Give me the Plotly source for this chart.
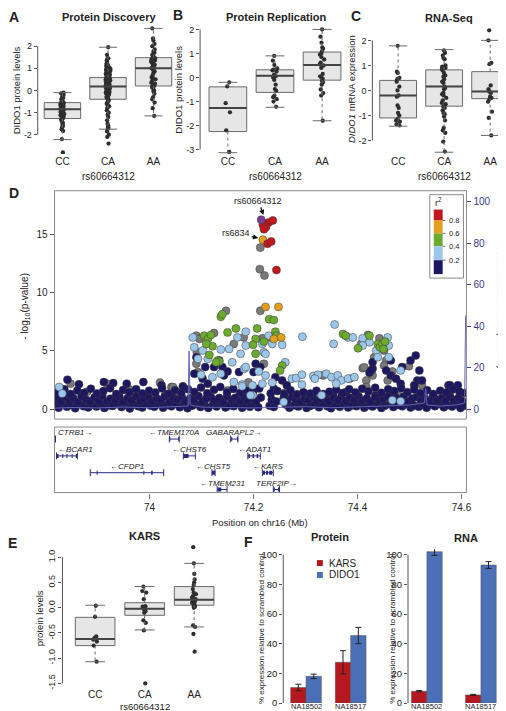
import plotly.graph_objects as go

W, H = 506, 711
FONT = "Liberation Sans, Arial, Helvetica, sans-serif"
INK = "#222222"

GENOTYPES = ["CC", "CA", "AA"]
SNP_LABEL = "rs60664312"

# ---------------- Panel A : Protein Discovery ----------------
A_CC = [-0.1, -0.13, -0.2, -0.28, -0.33, -0.4, -0.47, -0.5, -0.55, -0.58, -0.61, -0.66, -0.7, -0.71,
        -0.74, -0.78, -0.8, -0.83, -0.85, -0.86, -0.9, -0.93, -0.95, -0.98, -1.02, -1.06, -1.1, -1.12,
        -1.18, -1.22, -1.27, -1.33, -1.4, -1.47, -1.52, -1.6, -1.66, -1.75, -1.83, -2.2, -2.8]
A_CA = [1.95, 1.6, 1.45, 1.41, 1.35, 1.3, 1.24, 1.2, 1.16, 1.1, 1.08, 1.05, 1.02, 1.0, 0.97, 0.95,
        0.92, 0.9, 0.87, 0.85, 0.82, 0.8, 0.77, 0.75, 0.72, 0.7, 0.67, 0.65, 0.62, 0.6, 0.57, 0.55,
        0.52, 0.5, 0.47, 0.45, 0.42, 0.4, 0.38, 0.35, 0.33, 0.3, 0.27, 0.25, 0.22, 0.2, 0.18, 0.16,
        0.14, 0.12, 0.1, 0.08, 0.05, 0.03, 0.0, -0.03, -0.05, -0.08, -0.1, -0.12, -0.15, -0.18, -0.2,
        -0.25, -0.28, -0.3, -0.35, -0.4, -0.45, -0.5, -0.55, -0.6, -0.66, -0.72, -0.8, -0.9, -1.0,
        -1.1, -1.2, -1.35, -1.5, -1.6, -1.65, -1.7, -1.75, -1.85, -2.0, -2.1, -2.4]
A_AA = [2.8, 2.35, 2.25, 2.1, 2.0, 1.85, 1.75, 1.7, 1.6, 1.55, 1.5, 1.45, 1.4, 1.35, 1.3, 1.25, 1.2,
        1.15, 1.1, 1.05, 1.0, 0.95, 0.9, 0.85, 0.8, 0.7, 0.6, 0.55, 0.5, 0.45, 0.35, 0.3, 0.25, 0.2,
        0.15, 0.1, 0.0, -0.05, -0.15, -0.3, -0.4, -0.55, -0.8, -1.15]
A_LO = [-2.22, -1.75, -1.15]
A_Q1 = [-1.27, -0.4, 0.2]
A_MED = [-0.85, 0.18, 1.0]
A_Q3 = [-0.55, 0.58, 1.48]
A_HI = [-0.1, 1.95, 2.8]

# ---------------- Panel B : Protein Replication ----------------
B_CC = [-0.2, -0.37, -1.07, -1.45, -2.2, -3.1]
B_CA = [0.9, 0.7, 0.52, 0.38, 0.33, 0.3, 0.25, 0.12, 0.05, 0.0, -0.1, -0.3, -0.48, -0.55, -0.75,
        -0.82, -0.9, -1.0, -1.22]
B_AA = [2.0, 1.7, 1.45, 1.25, 1.2, 1.1, 1.0, 0.95, 0.85, 0.75, 0.62, 0.55, 0.5, 0.4, 0.15, 0.05,
        0.0, -0.05, -0.15, -0.2, -0.3, -0.5, -0.65, -0.75, -1.8]
B_LO = [-3.13, -1.24, -1.8]
B_Q1 = [-2.25, -0.62, -0.11]
B_MED = [-1.27, 0.07, 0.52]
B_Q3 = [-0.39, 0.32, 1.06]
B_HI = [-0.2, 0.9, 2.0]

# ---------------- Panel C : RNA-Seq ----------------
C_CC = [1.78, 0.75, 0.7, 0.5, 0.45, 0.35, 0.15, 0.0, -0.2, -0.25, -0.6, -0.7, -0.9, -1.0, -1.15,
        -1.2, -1.25, -1.35, -1.4]
C_CA = [1.6, 1.5, 1.4, 1.3, 1.25, 1.0, 0.95, 0.9, 0.85, 0.8, 0.7, 0.6, 0.55, 0.45, 0.35, 0.3, 0.15,
        0.1, 0.05, -0.1, -0.15, -0.2, -0.3, -0.4, -0.5, -0.55, -0.65, -0.7, -0.8, -0.9, -0.95, -1.05,
        -1.2, -1.5, -1.6, -1.7, -2.05, -2.45]
C_AA = [2.4, 2.0, 1.1, 1.05, 0.2, 0.05, -0.05, -0.1, -0.25, -0.3, -0.35, -0.45, -0.85, -1.1, -1.8]
C_LO = [-1.43, -2.47, -1.8]
C_Q1 = [-1.1, -0.63, -0.33]
C_MED = [-0.2, 0.16, -0.04]
C_Q3 = [0.4, 0.82, 0.75]
C_HI = [1.78, 1.63, 2.0]

# ---------------- Panel E : KARS protein ----------------
E_CC = [0.04, -0.18, -0.57, -0.6, -0.63, -0.67, -0.75, -1.07]
E_CA = [0.42, 0.33, 0.3, 0.17, 0.03, 0.02, 0.0, -0.02, -0.05, -0.07, -0.1, -0.25, -0.3, -0.45, -1.5]
E_AA = [1.2, 0.88, 0.67, 0.56, 0.5, 0.45, 0.37, 0.3, 0.27, 0.23, 0.2, 0.17, 0.15, 0.12, 0.1, 0.07,
        0.05, 0.03, 0.02, 0.0, -0.35, -0.38, -0.52, -0.87]
E_LO = [-1.07, -0.44, -0.38]
E_Q1 = [-0.75, -0.15, 0.05]
E_MED = [-0.62, -0.02, 0.16]
E_Q3 = [-0.19, 0.1, 0.42]
E_HI = [0.05, 0.42, 0.88]

# ---------------- Panel F : knockdown ----------------
F_LINES = ["NA18502", "NA18517"]
F_PROT_KARS = [10.5, 27.5]
F_PROT_KARS_ERR = [2.2, 7.8]
F_PROT_DIDO1 = [18.0, 45.5]
F_PROT_DIDO1_ERR = [1.5, 5.5]
F_RNA_KARS = [8.0, 5.5]
F_RNA_KARS_ERR = [0.4, 0.4]
F_RNA_DIDO1 = [102.0, 93.0]
F_RNA_DIDO1_ERR = [2.5, 2.3]

# ---------------- Panel D : regional association (position Mb, -log10 p) ----------------
D_TOP = [(74.2147, 16.26)]
D_RED = [(74.2215, 15.92), (74.229, 16.03), (74.237, 16.2), (74.224, 15.63), (74.218, 15.83),
         (74.227, 14.2), (74.234, 14.4), (74.244, 11.94), (74.220, 15.45)]
D_ORANGE = [(74.218, 14.55), (74.223, 8.78), (74.248, 8.78), (74.253, 6.16), (74.239, 6.03)]
D_GREEN = [(74.137, 7.93), (74.140, 8.15), (74.230, 7.73), (74.239, 7.65), (74.105, 6.31),
           (74.112, 6.03), (74.150, 6.59), (74.166, 6.93), (74.207, 6.93), (74.204, 6.03),
           (74.121, 5.40), (74.199, 5.52), (74.115, 4.66), (74.204, 4.75), (74.131, 4.18),
           (74.134, 4.09), (74.242, 6.65), (74.244, 6.31), (74.220, 5.80), (74.372, 6.45),
           (74.377, 6.31), (74.401, 5.23), (74.255, 3.75), (74.251, 3.32), (74.423, 6.31),
           (74.439, 5.60), (74.443, 5.31), (74.448, 5.60), (74.450, 5.17), (74.453, 5.80),
           (74.118, 6.37), (74.109, 5.60), (74.128, 4.03)]
D_LBLUE = [(74.083, 6.16), (74.185, 6.65), (74.169, 6.16), (74.137, 5.12), (74.153, 5.17),
           (74.185, 5.46), (74.217, 5.60), (74.086, 5.31), (74.102, 5.03), (74.175, 4.75),
           (74.220, 4.88), (74.093, 4.32), (74.112, 4.32), (74.159, 4.03), (74.099, 2.96),
           (74.121, 2.75), (74.137, 3.04), (74.162, 2.33), (74.178, 2.11), (74.198, 2.05),
           (74.182, 3.47), (74.185, 3.61), (74.210, 3.24), (74.198, 1.19), (74.223, 2.90),
           (74.229, 6.31), (74.236, 5.60), (74.255, 5.52), (74.294, 6.22), (74.356, 7.27),
           (74.354, 5.60), (74.382, 6.16), (74.391, 6.16), (74.410, 6.08), (74.223, 4.75),
           (74.261, 4.03), (74.274, 2.62), (74.282, 2.67), (74.293, 2.96), (74.315, 2.84),
           (74.324, 2.96), (74.340, 3.04), (74.350, 2.75), (74.362, 2.90), (74.369, 2.47),
           (74.382, 2.62), (74.394, 2.75), (74.359, 2.19), (74.318, 2.62), (74.217, 2.19),
           (74.236, 2.28), (74.293, 2.11), (74.331, 1.19), (74.258, 0.62), (74.423, 5.74),
           (74.458, 6.16), (74.460, 5.46), (74.436, 5.03), (74.439, 4.46), (74.460, 4.46),
           (74.483, 3.32), (74.467, 0.77), (74.483, 0.68), (74.410, 5.46), (73.826, 1.90),
           (73.832, 1.34), (74.194, 1.19), (74.178, 1.96)]
D_GREY = [(74.213, 13.87), (74.212, 12.02), (74.221, 11.48), (74.147, 8.44), (74.213, 8.44),
          (74.090, 6.31), (74.096, 6.03), (74.124, 6.54), (74.181, 6.16), (74.217, 6.08),
          (74.162, 5.60), (74.091, 4.88), (74.090, 3.90), (74.093, 3.18), (74.042, 1.90),
          (74.051, 1.47), (74.232, 6.16), (74.220, 3.90), (74.334, 2.90), (74.385, 2.62),
          (74.410, 3.52), (74.407, 5.60), (74.420, 6.37), (74.442, 6.08), (74.432, 4.46),
          (74.451, 5.03), (74.455, 4.18), (74.413, 3.60), (74.451, 3.75), (74.499, 3.69),
          (74.417, 2.47), (74.417, 1.90), (74.429, 2.90), (74.458, 2.47), (74.467, 3.24),
          (74.524, 2.05), (73.848, 2.19), (73.918, 2.19), (74.020, 2.28), (74.045, 1.90),
          (74.150, 1.60), (74.190, 2.30), (74.260, 1.40), (74.309, 0.62), (74.350, 1.20),
          (74.480, 1.10), (74.550, 0.80), (73.880, 1.50), (73.960, 1.70), (74.000, 0.90)]
D_NAVY = [
    # raised points
    (74.086, 3.04), (74.102, 2.62), (74.124, 3.61), (74.140, 3.61), (74.150, 3.24), (74.112, 2.19),
    (74.204, 3.90), (74.213, 3.61), (74.200, 3.18), (74.090, 4.46), (74.107, 3.61), (74.134, 4.18),
    (74.172, 3.18), (74.143, 2.90), (74.242, 2.75), (74.255, 2.47), (74.264, 2.05), (74.239, 1.76),
    (74.378, 1.47), (74.398, 1.19), (74.309, 1.19), (74.385, 0.91), (74.353, 1.19), (74.512, 4.60),
    (74.519, 3.32), (74.423, 3.13), (74.429, 3.47), (74.455, 3.32), (74.464, 2.90), (74.474, 2.62),
    (74.515, 2.47), (74.483, 2.19), (74.509, 2.05), (74.575, 2.05), (74.593, 2.05), (74.435, 1.19),
    (74.467, 1.19), (74.502, 4.18), (74.486, 3.61), (74.524, 2.47), (74.578, 2.05), (74.464, 4.18),
    (74.429, 4.03), (74.426, 3.32), (73.842, 2.53), (73.864, 2.13), (73.912, 2.33), (73.930, 2.24),
    (73.956, 2.19), (73.988, 2.33), (74.023, 2.05), (74.064, 1.96),
    # low row
    (73.818, 0.30), (73.825, 0.12), (73.833, 0.42), (73.841, 0.20), (73.850, 0.35), (73.857, 0.08),
    (73.866, 0.45), (73.873, 0.25), (73.882, 0.15), (73.889, 0.38), (73.898, 0.22), (73.906, 0.50),
    (73.913, 0.10), (73.922, 0.32), (73.929, 0.28), (73.938, 0.44), (73.946, 0.18), (73.953, 0.36),
    (73.962, 0.06), (73.969, 0.40), (73.978, 0.26), (73.986, 0.14), (73.993, 0.48), (74.002, 0.30),
    (74.009, 0.20), (74.018, 0.42), (74.026, 0.12), (74.033, 0.34), (74.042, 0.24), (74.049, 0.46),
    (74.058, 0.16), (74.066, 0.38), (74.073, 0.08), (74.082, 0.30), (74.089, 0.44), (74.098, 0.18),
    (74.106, 0.36), (74.113, 0.10), (74.122, 0.40), (74.129, 0.22), (74.138, 0.48), (74.146, 0.14),
    (74.153, 0.32), (74.162, 0.26), (74.169, 0.44), (74.178, 0.12), (74.186, 0.36), (74.193, 0.20),
    (74.202, 0.42), (74.209, 0.16), (74.231, 0.30), (74.239, 0.18), (74.262, 0.40), (74.269, 0.12),
    (74.278, 0.34), (74.286, 0.22), (74.293, 0.46), (74.302, 0.10), (74.309, 0.28), (74.318, 0.38),
    (74.326, 0.16), (74.333, 0.44), (74.342, 0.24), (74.349, 0.08), (74.358, 0.36), (74.366, 0.20),
    (74.373, 0.42), (74.382, 0.14), (74.389, 0.32), (74.398, 0.26), (74.406, 0.48), (74.413, 0.12),
    (74.422, 0.34), (74.429, 0.22), (74.438, 0.40), (74.446, 0.10), (74.453, 0.30), (74.462, 0.44),
    (74.469, 0.18), (74.478, 0.36), (74.486, 0.24), (74.493, 0.46), (74.502, 0.14), (74.509, 0.32),
    (74.518, 0.20), (74.526, 0.42), (74.533, 0.12), (74.542, 0.38), (74.549, 0.26), (74.558, 0.44),
    (74.566, 0.16), (74.573, 0.34), (74.582, 0.22), (74.589, 0.40), (74.598, 0.10), (74.606, 0.30),
    # middle row
    (73.821, 0.85), (73.829, 0.65), (73.837, 1.05), (73.846, 0.75), (73.853, 0.95), (73.862, 0.62),
    (73.869, 1.10), (73.878, 0.80), (73.885, 0.68), (73.894, 1.00), (73.902, 0.72), (73.909, 1.12),
    (73.918, 0.66), (73.925, 0.90), (73.934, 0.78), (73.942, 1.06), (73.949, 0.64), (73.958, 0.96),
    (73.965, 0.74), (73.974, 1.08), (73.982, 0.70), (73.989, 0.88), (73.998, 1.02), (74.005, 0.66),
    (74.014, 0.92), (74.022, 0.76), (74.029, 1.10), (74.038, 0.62), (74.045, 0.98), (74.054, 0.82),
    (74.062, 1.04), (74.069, 0.70), (74.078, 0.94), (74.085, 0.78), (74.094, 1.12), (74.102, 0.66),
    (74.109, 0.90), (74.118, 1.02), (74.125, 0.74), (74.134, 0.96), (74.142, 0.64), (74.149, 1.08),
    (74.158, 0.80), (74.165, 0.98), (74.174, 0.68), (74.182, 1.06), (74.189, 0.76), (74.198, 0.92),
    (74.205, 0.70), (74.214, 1.00), (74.235, 0.82), (74.244, 0.66), (74.258, 0.96), (74.265, 0.72),
    (74.274, 1.04), (74.282, 0.78), (74.289, 0.64), (74.298, 0.94), (74.305, 0.80), (74.314, 1.06),
    (74.322, 0.70), (74.329, 0.88), (74.338, 1.00), (74.345, 0.66), (74.354, 0.92), (74.362, 0.76),
    (74.369, 1.08), (74.378, 0.68), (74.385, 0.98), (74.394, 0.82), (74.402, 1.10), (74.409, 0.72),
    (74.418, 0.94), (74.425, 0.64), (74.434, 1.02), (74.442, 0.78), (74.449, 0.90), (74.458, 1.06),
    (74.465, 0.70), (74.474, 0.96), (74.482, 0.84), (74.489, 1.08), (74.498, 0.66), (74.505, 0.92),
    (74.514, 1.04), (74.522, 0.74), (74.529, 0.98), (74.538, 0.68), (74.545, 1.06), (74.554, 0.80),
    (74.562, 0.94), (74.569, 0.72), (74.578, 1.10), (74.585, 0.78), (74.594, 0.96), (74.602, 0.70),
    # upper row
    (73.823, 1.45), (73.836, 1.70), (73.848, 1.30), (73.861, 1.60), (73.874, 1.40), (73.887, 1.75),
    (73.899, 1.35), (73.911, 1.55), (73.924, 1.80), (73.936, 1.30), (73.949, 1.65), (73.961, 1.45),
    (73.974, 1.72), (73.986, 1.35), (73.999, 1.58), (74.011, 1.42), (74.024, 1.78), (74.036, 1.32),
    (74.049, 1.62), (74.061, 1.40), (74.074, 1.70), (74.086, 1.48), (74.099, 1.85), (74.111, 1.36),
    (74.124, 1.66), (74.136, 1.90), (74.149, 1.44), (74.161, 1.74), (74.174, 1.38), (74.186, 1.60),
    (74.199, 1.50), (74.211, 1.78), (74.233, 1.35), (74.246, 1.55), (74.259, 1.30), (74.271, 1.62),
    (74.284, 1.28), (74.296, 1.45), (74.309, 1.34), (74.321, 1.58), (74.334, 1.30), (74.346, 1.50),
    (74.359, 1.66), (74.371, 1.38), (74.384, 1.70), (74.396, 1.44), (74.409, 1.76), (74.421, 1.52),
    (74.434, 1.84), (74.446, 1.40), (74.459, 1.72), (74.471, 1.56), (74.484, 1.80), (74.496, 1.46),
    (74.509, 1.68), (74.521, 1.36), (74.534, 1.62), (74.546, 1.30), (74.559, 1.58), (74.571, 1.44),
    (74.584, 1.70), (74.596, 1.52), (74.606, 1.38),
]
RECOMB_POS = [73.8171, 73.85, 73.90, 73.95, 74.00, 74.05, 74.074, 74.076, 74.078, 74.10, 74.15,
              74.20, 74.25, 74.30, 74.35, 74.40, 74.45, 74.50, 74.529, 74.531, 74.534, 74.56,
              74.59, 74.606, 74.608, 74.6095]
RECOMB_RATE = [0.5, 0.8, 0.6, 1.0, 0.7, 1.2, 1.5, 28.0, 2.0, 1.0, 0.8, 0.6, 0.9, 1.2, 0.7, 1.0,
               1.5, 2.0, 3.0, 10.0, 2.0, 1.5, 2.0, 3.0, 45.0, 45.0]
R2_BREAKS = ["0.8", "0.6", "0.4", "0.2"]

# ---------------- Gene track ----------------
GENE_NAMES = ["CTRB1", "BCAR1", "CFDP1", "TMEM170A", "CHST6", "CHST5", "TMEM231", "GABARAPL2",
              "ADAT1", "KARS", "TERF2IP"]
GENE_START = [73.817, 73.821, 73.886, 74.038, 74.065, 74.120, 74.130, 74.156, 74.189, 74.217, 74.238]
GENE_END = [73.819, 73.861, 74.027, 74.057, 74.088, 74.126, 74.149, 74.170, 74.213, 74.238, 74.250]
GENE_STRAND = ["+", "-", "-", "-", "-", "-", "-", "+", "-", "-", "+"]
GENE_ROW = [1, 2, 3, 1, 2, 3, 4, 1, 2, 3, 4]
EXON_START = [73.821, 73.832, 73.840, 73.850, 73.858, 73.898, 73.988, 74.003, 74.038, 74.055,
              74.066, 74.120, 74.131, 74.157, 74.168, 74.190, 74.198, 74.206, 74.218, 74.224,
              74.230, 74.239, 74.247]
EXON_END = [73.825, 73.834, 73.842, 73.852, 73.861, 73.900, 73.990, 74.006, 74.040, 74.057,
            74.075, 74.126, 74.138, 74.159, 74.170, 74.193, 74.201, 74.209, 74.222, 74.228,
            74.236, 74.241, 74.250]
EXON_ROW = [2, 2, 2, 2, 2, 3, 3, 3, 1, 1, 2, 3, 4, 1, 1, 2, 2, 2, 3, 3, 3, 4, 4]

# ---------------- colours ----------------
BOXFILL = "#e6e6e6"
BOXLINE = "#6a6a6a"
PT = "#2e2e2e"
C_NAVY, C_LBLUE, C_GREEN, C_ORANGE, C_RED, C_GREY, C_PURPLE = (
    "#1c1760", "#9cc7ea", "#6cab2e", "#e3a01c", "#c3161e", "#7a7a7a", "#7a3e97")
C_RECOMB = "#3c3c8c"
C_KARS, C_DIDO1 = "#b5181f", "#4b70b7"


def dom_x(a, b):
    return [a / W, b / W]


def dom_y(top, bottom):
    return [1 - bottom / H, 1 - top / H]


def yrange(top, bottom, zero_px, ppu):
    return [(zero_px - bottom) / ppu, (zero_px - top) / ppu]


def P(x, y):
    return x / W, 1 - y / H


fig = go.Figure()
shapes, annotations = [], []


def text(x, y, s, size=10, bold=False, color=INK, angle=0, xanchor="center", italic=False):
    if bold:
        s = "<b>" + s + "</b>"
    if italic:
        s = "<i>" + s + "</i>"
    px, py = P(x, y)
    annotations.append(dict(x=px, y=py, xref="paper", yref="paper", text=s, showarrow=False,
                            font=dict(size=size, color=color, family=FONT), textangle=angle,
                            xanchor=xanchor, yanchor="middle"))


def box_panel(xa, ya, groups, lo, q1, med, q3, hi, bw=0.8):
    wx, wy, cx, cy, mx, my = [], [], [], [], [], []
    for i in range(len(groups)):
        fig.add_trace(go.Box(x=[i], q1=[q1[i]], median=[med[i]], q3=[q3[i]],
                             lowerfence=[q1[i]], upperfence=[q3[i]], width=bw,
                             fillcolor=BOXFILL, line=dict(color=BOXLINE, width=1),
                             whiskerwidth=0, boxpoints=False, xaxis=xa, yaxis=ya,
                             hoverinfo="skip", showlegend=False))
        wx += [i, i, None, i, i, None]
        wy += [q3[i], hi[i], None, q1[i], lo[i], None]
        cx += [i - bw / 4, i + bw / 4, None, i - bw / 4, i + bw / 4, None]
        cy += [hi[i], hi[i], None, lo[i], lo[i], None]
        mx += [i - bw / 2, i + bw / 2, None]
        my += [med[i], med[i], None]
    fig.add_trace(go.Scatter(x=wx, y=wy, mode="lines", line=dict(color=BOXLINE, width=1, dash="dot"),
                             xaxis=xa, yaxis=ya, hoverinfo="skip", showlegend=False))
    fig.add_trace(go.Scatter(x=cx, y=cy, mode="lines", line=dict(color=BOXLINE, width=1),
                             xaxis=xa, yaxis=ya, hoverinfo="skip", showlegend=False))
    fig.add_trace(go.Scatter(x=mx, y=my, mode="lines", line=dict(color="#444444", width=2),
                             xaxis=xa, yaxis=ya, hoverinfo="skip", showlegend=False))
    for i, pts in enumerate(groups):
        fig.add_trace(go.Box(x=[i] * len(pts), y=pts, boxpoints="all", jitter=0.14, pointpos=0,
                             width=bw, fillcolor="rgba(0,0,0,0)",
                             line=dict(color="rgba(0,0,0,0)", width=0),
                             marker=dict(size=4.3, color=PT), xaxis=xa, yaxis=ya,
                             hoverinfo="skip", showlegend=False))


def cat_axis(domain, rng):
    return dict(domain=domain, range=rng, tickvals=[0, 1, 2], ticktext=GENOTYPES, ticks="",
                showline=False, showgrid=False, zeroline=False,
                tickfont=dict(size=10, color=INK, family=FONT))


def val_axis(domain, rng, anchor, vals, labels, angle=0, size=9):
    return dict(domain=domain, range=rng, anchor=anchor, tickvals=vals, ticktext=labels,
                ticks="outside", ticklen=3, tickcolor="#555", tickwidth=1, showline=False,
                showgrid=False, zeroline=False, tickangle=angle,
                tickfont=dict(size=size, color=INK, family=FONT))


def axis_line(xref, yref, y0, y1):
    shapes.append(dict(type="line", xref=xref + " domain", yref=yref, x0=0, x1=0, y0=y0, y1=y1,
                       line=dict(color="#555", width=1)))


layout = {}

# ---- A
box_panel("x", "y", [A_CC, A_CA, A_AA], A_LO, A_Q1, A_MED, A_Q3, A_HI)
layout["xaxis"] = dict(cat_axis(dom_x(30, 170), [-0.543, 2.5]), anchor="y")
layout["yaxis"] = val_axis(dom_y(15, 147), yrange(15, 147, 83, 22.3), "x",
                           [-2, -1, 0, 1, 2], ["-2", "-1", "0", "1", "2"])
axis_line("x", "y", -2, 2)
# ---- B
box_panel("x2", "y2", [B_CC, B_CA, B_AA], B_LO, B_Q1, B_MED, B_Q3, B_HI)
layout["xaxis2"] = dict(cat_axis(dom_x(194, 341), [-0.59, 2.5]), anchor="y2")
layout["yaxis2"] = val_axis(dom_y(15, 147), yrange(15, 147, 70, 24.2), "x2",
                            [-3, -2, -1, 0, 1, 2], ["-3", "-2", "-1", "0", "1", "2"])
axis_line("x2", "y2", -3, 2)
# ---- C
box_panel("x3", "y3", [C_CC, C_CA, C_AA], C_LO, C_Q1, C_MED, C_Q3, C_HI)
layout["xaxis3"] = dict(cat_axis(dom_x(368, 506), [-0.56, 2.41]), anchor="y3")
layout["yaxis3"] = val_axis(dom_y(15, 147), yrange(15, 147, 83, 25.2), "x3",
                            [-2, -1, 0, 1, 2], ["-2", "-1", "0", "1", "2"])
axis_line("x3", "y3", -2, 2)
# ---- E
box_panel("x7", "y7", [E_CC, E_CA, E_AA], E_LO, E_Q1, E_MED, E_Q3, E_HI)
layout["xaxis7"] = dict(cat_axis(dom_x(55, 212), [-0.66, 2.48]), anchor="y7")
layout["yaxis7"] = val_axis(dom_y(540, 684), yrange(540, 684, 604, 50.8), "x7",
                            [-1.5, -1.0, -0.5, 0.0, 0.5, 1.0],
                            ["-1.5", "-1.0", "-0.5", "0.0", "0.5", "1.0"], angle=-90)
axis_line("x7", "y7", -1.5, 1.0)

# ---- D : association scatter
D_XR = [73.81714, 74.60952]


def scatter_pts(pairs, color, size=8):
    fig.add_trace(go.Scatter(x=[p[0] for p in pairs], y=[p[1] for p in pairs], mode="markers",
                             marker=dict(size=size, color=color, line=dict(color="#3a3a3a", width=0.5)),
                             xaxis="x4", yaxis="y4", hoverinfo="skip", showlegend=False))


fig.add_trace(go.Scatter(x=RECOMB_POS, y=RECOMB_RATE, mode="lines",
                         line=dict(color="#6464b4", width=1), xaxis="x4", yaxis="y5",
                         hoverinfo="skip", showlegend=False))
scatter_pts(D_GREY, C_GREY)
scatter_pts(D_NAVY, C_NAVY)
scatter_pts(D_LBLUE, C_LBLUE)
scatter_pts(D_GREEN, C_GREEN)
scatter_pts(D_ORANGE, C_ORANGE)
scatter_pts(D_RED, C_RED)
scatter_pts(D_TOP, C_PURPLE)

layout["xaxis4"] = dict(domain=dom_x(47, 463), range=D_XR, anchor="y4", showticklabels=False,
                        ticks="", showline=False, showgrid=False, zeroline=False)
layout["yaxis4"] = val_axis(dom_y(184, 414), yrange(184, 414, 404, 11.73), "x4",
                            [0, 5, 10, 15], ["0", "5", "10", "15"], size=10)
layout["yaxis4"]["ticklen"] = 4
layout["yaxis5"] = dict(domain=dom_y(184, 414), range=yrange(184, 414, 404, 2.09), overlaying="y4",
                        side="right", anchor="x4", tickvals=[0, 20, 40, 60, 80, 100], ticks="outside",
                        ticklen=4, tickcolor=C_RECOMB, showgrid=False, zeroline=False, showline=False,
                        tickfont=dict(size=10, color=C_RECOMB, family=FONT))
shapes.append(dict(type="rect", xref="x4 domain", yref="y4 domain", x0=0, x1=1, y0=0, y1=1,
                   line=dict(color="#8a8a8a", width=1)))

# ---- gene track
gx, gy, ex, ey, capx, capy = [], [], [], [], [], []
for s, e, r in zip(GENE_START, GENE_END, GENE_ROW):
    gx += [s, e, None]
    gy += [r, r, None]
    capx += [s, e]
    capy += [r, r]
for s, e, r in zip(EXON_START, EXON_END, EXON_ROW):
    ex += [s, e, None]
    ey += [r, r, None]
fig.add_trace(go.Scatter(x=gx, y=gy, mode="lines", line=dict(color="#2a2a80", width=1),
                         xaxis="x6", yaxis="y6", hoverinfo="skip", showlegend=False))
fig.add_trace(go.Scatter(x=capx, y=capy, mode="markers",
                         marker=dict(symbol="line-ns", size=5, line=dict(color="#2a2a80", width=1)),
                         xaxis="x6", yaxis="y6", hoverinfo="skip", showlegend=False))
fig.add_trace(go.Scatter(x=ex, y=ey, mode="lines", line=dict(color="#2a2a80", width=4),
                         xaxis="x6", yaxis="y6", hoverinfo="skip", showlegend=False))
for name, s, e, strand, r in zip(GENE_NAMES, GENE_START, GENE_END, GENE_STRAND, GENE_ROW):
    label = ("\u2190<i>%s</i>" % name) if strand == "-" else ("<i>%s</i>\u2192" % name)
    xanchor, xpos = "center", (s + e) / 2
    if xpos < D_XR[0] + 0.03:
        xanchor, xpos = "left", D_XR[0] + 0.002
    annotations.append(dict(x=xpos, y=r - 0.36, xref="x6", yref="y6", text=label, showarrow=False,
                            xanchor=xanchor, yanchor="middle",
                            font=dict(size=8, color=INK, family=FONT)))
layout["xaxis6"] = dict(domain=dom_x(47, 463), range=D_XR, anchor="y6", matches="x4",
                        tickvals=[74.0, 74.2, 74.4, 74.6], ticktext=["74", "74.2", "74.4", "74.6"],
                        ticks="outside", ticklen=5, tickcolor="#777", showline=False, showgrid=False,
                        zeroline=False, tickfont=dict(size=10, color=INK, family=FONT))
layout["yaxis6"] = dict(domain=dom_y(422, 488), range=[4.18, 0.286], anchor="x6", visible=False)
shapes.append(dict(type="rect", xref="x6 domain", yref="y6 domain", x0=0, x1=1, y0=0, y1=1,
                   line=dict(color="#8a8a8a", width=1)))

# r2 legend
lx0, ly0 = P(426, 188)
lx1, ly1 = P(460, 272)
shapes.append(dict(type="rect", xref="paper", yref="paper", x0=lx0, x1=lx1, y0=ly1, y1=ly0,
                   fillcolor="white", line=dict(color="#8a8a8a", width=1)))
seg_edges = [203, 214, 227, 240, 254, 268]
for k, col in enumerate([C_RED, C_ORANGE, C_GREEN, C_LBLUE, C_NAVY]):
    a0, b0 = P(430, seg_edges[k])
    a1, b1 = P(439, seg_edges[k + 1])
    shapes.append(dict(type="rect", xref="paper", yref="paper", x0=a0, x1=a1, y0=b1, y1=b0,
                       fillcolor=col, line=dict(width=0)))
for k, lab in enumerate(R2_BREAKS):
    yy = seg_edges[k + 1]
    a0, b0 = P(439, yy)
    a1, _ = P(442, yy)
    shapes.append(dict(type="line", xref="paper", yref="paper", x0=a0, x1=a1, y0=b0, y1=b0,
                       line=dict(color="#555", width=0.8)))
    text(443, yy + 0.5, lab, size=7.5, xanchor="left")
text(434.5, 195, "r<sup>2</sup>", size=9)

# D annotations (text at arrow tail, arrow pointing at the SNP)
annotations.append(dict(x=74.219, y=16.67, xref="x4", yref="y4", text=SNP_LABEL, showarrow=True,
                        ax=-5, ay=-14, arrowhead=2, arrowsize=0.8, arrowwidth=1.3, arrowcolor="#111",
                        standoff=0, font=dict(size=9, color=INK, family=FONT)))
annotations.append(dict(x=74.209, y=14.69, xref="x4", yref="y4", text="rs6834", showarrow=True,
                        ax=-22, ay=-5, arrowhead=2, arrowsize=0.8, arrowwidth=1.3, arrowcolor="#111",
                        standoff=0, font=dict(size=9, color=INK, family=FONT)))


# ---- F bars
def bar_pair(xa, ya, kars, kerr, dido, derr, w):
    xs = list(range(len(F_LINES)))
    err = dict(type="data", color="#222", thickness=1, width=3)
    fig.add_trace(go.Bar(x=xs, y=kars, width=w, offset=-w, marker=dict(color=C_KARS,
                         line=dict(color="#555", width=0.5)), error_y=dict(err, array=kerr),
                         xaxis=xa, yaxis=ya, hoverinfo="skip", showlegend=False))
    fig.add_trace(go.Bar(x=xs, y=dido, width=w, offset=0, marker=dict(color=C_DIDO1,
                         line=dict(color="#555", width=0.5)), error_y=dict(err, array=derr),
                         xaxis=xa, yaxis=ya, hoverinfo="skip", showlegend=False))


bar_pair("x8", "y8", F_PROT_KARS, F_PROT_KARS_ERR, F_PROT_DIDO1, F_PROT_DIDO1_ERR, 0.344)
bar_pair("x9", "y9", F_RNA_KARS, F_RNA_KARS_ERR, F_RNA_DIDO1, F_RNA_DIDO1_ERR, 0.284)
F_YR = yrange(545, 700, 700, 1.495)
for xa, ya, xd, xr in [("xaxis8", "yaxis8", dom_x(278, 370), [-0.51, 1.53]),
                       ("xaxis9", "yaxis9", dom_x(404, 500), [-0.349, 1.41])]:
    layout[xa] = dict(domain=xd, range=xr, anchor=ya.replace("axis", ""), showticklabels=False,
                      ticks="", showline=False, showgrid=False, zeroline=False)
    layout[ya] = val_axis(dom_y(545, 700), F_YR, xa.replace("axis", ""),
                          [0, 20, 40, 60, 80, 100], ["0", "20", "40", "60", "80", "100"], size=9.5)
    axis_line(xa.replace("axis", ""), ya.replace("axis", ""), 0, 100)
    for k, lab in enumerate(F_LINES):
        annotations.append(dict(x=k, y=0, xref=xa.replace("axis", ""), yref="paper",
                                text=lab, showarrow=False, yanchor="bottom", yshift=1,
                                font=dict(size=7.5, color=INK, family=FONT)))

# F legend
for k, (lab, col) in enumerate([("KARS", C_KARS), ("DIDO1", C_DIDO1)]):
    yy = 559 + 12 * k
    a0, b0 = P(312, yy - 3)
    a1, b1 = P(318, yy + 3)
    shapes.append(dict(type="rect", xref="paper", yref="paper", x0=a0, x1=a1, y0=b1, y1=b0,
                       fillcolor=col, line=dict(width=0)))
    text(322, yy, lab, size=10, xanchor="left")

# ---- titles / labels
text(6, 9, "A", size=14, bold=True)
text(172, 7, "B", size=14, bold=True)
text(351, 8, "C", size=14, bold=True)
text(6, 186, "D", size=14, bold=True)
text(5, 539, "E", size=14, bold=True)
text(243, 538, "F", size=14, bold=True)

text(102, 9, "Protein Discovery", size=11, bold=True)
text(271, 9, "Protein Replication", size=11, bold=True)
text(445, 10, "RNA-Seq", size=11, bold=True)
text(138, 532, "KARS", size=11, bold=True)
text(325, 533, "Protein", size=11, bold=True)
text(463, 534, "RNA", size=11, bold=True)

text(8, 83, "DIDO1 protein levels", size=9.5, angle=-90)
text(172, 82, "DIDO1 protein levels", size=9.5, angle=-90)
text(347, 82, "<i>DIDO1</i> mRNA expression", size=9.5, angle=-90)
text(32, 615, "protein levels", size=9.5, angle=-90)
text(256, 625, "% expression relative to scrambled control", size=8, angle=-90)
text(388, 625, "% expression relative to scrambled control", size=8, angle=-90)
text(101, 170, SNP_LABEL, size=10)
text(270, 170, SNP_LABEL, size=10)
text(441, 170, SNP_LABEL, size=10)
text(138, 703, SNP_LABEL, size=9.5)

text(17, 300, "- log<sub>10</sub>(p-value)", size=10, angle=-90)
text(498, 300, "Recombination rate (cM/Mb)", size=10, angle=90, color=C_RECOMB)
text(255, 518, "Position on chr16 (Mb)", size=9.5)

fig.update_layout(width=W, height=H, margin=dict(l=0, r=0, t=0, b=0), autosize=False,
                  paper_bgcolor="white", plot_bgcolor="white", showlegend=False,
                  boxmode="overlay", barmode="overlay", shapes=shapes, annotations=annotations,
                  font=dict(family=FONT, color=INK), **layout)

fig.write_html("out.html")
